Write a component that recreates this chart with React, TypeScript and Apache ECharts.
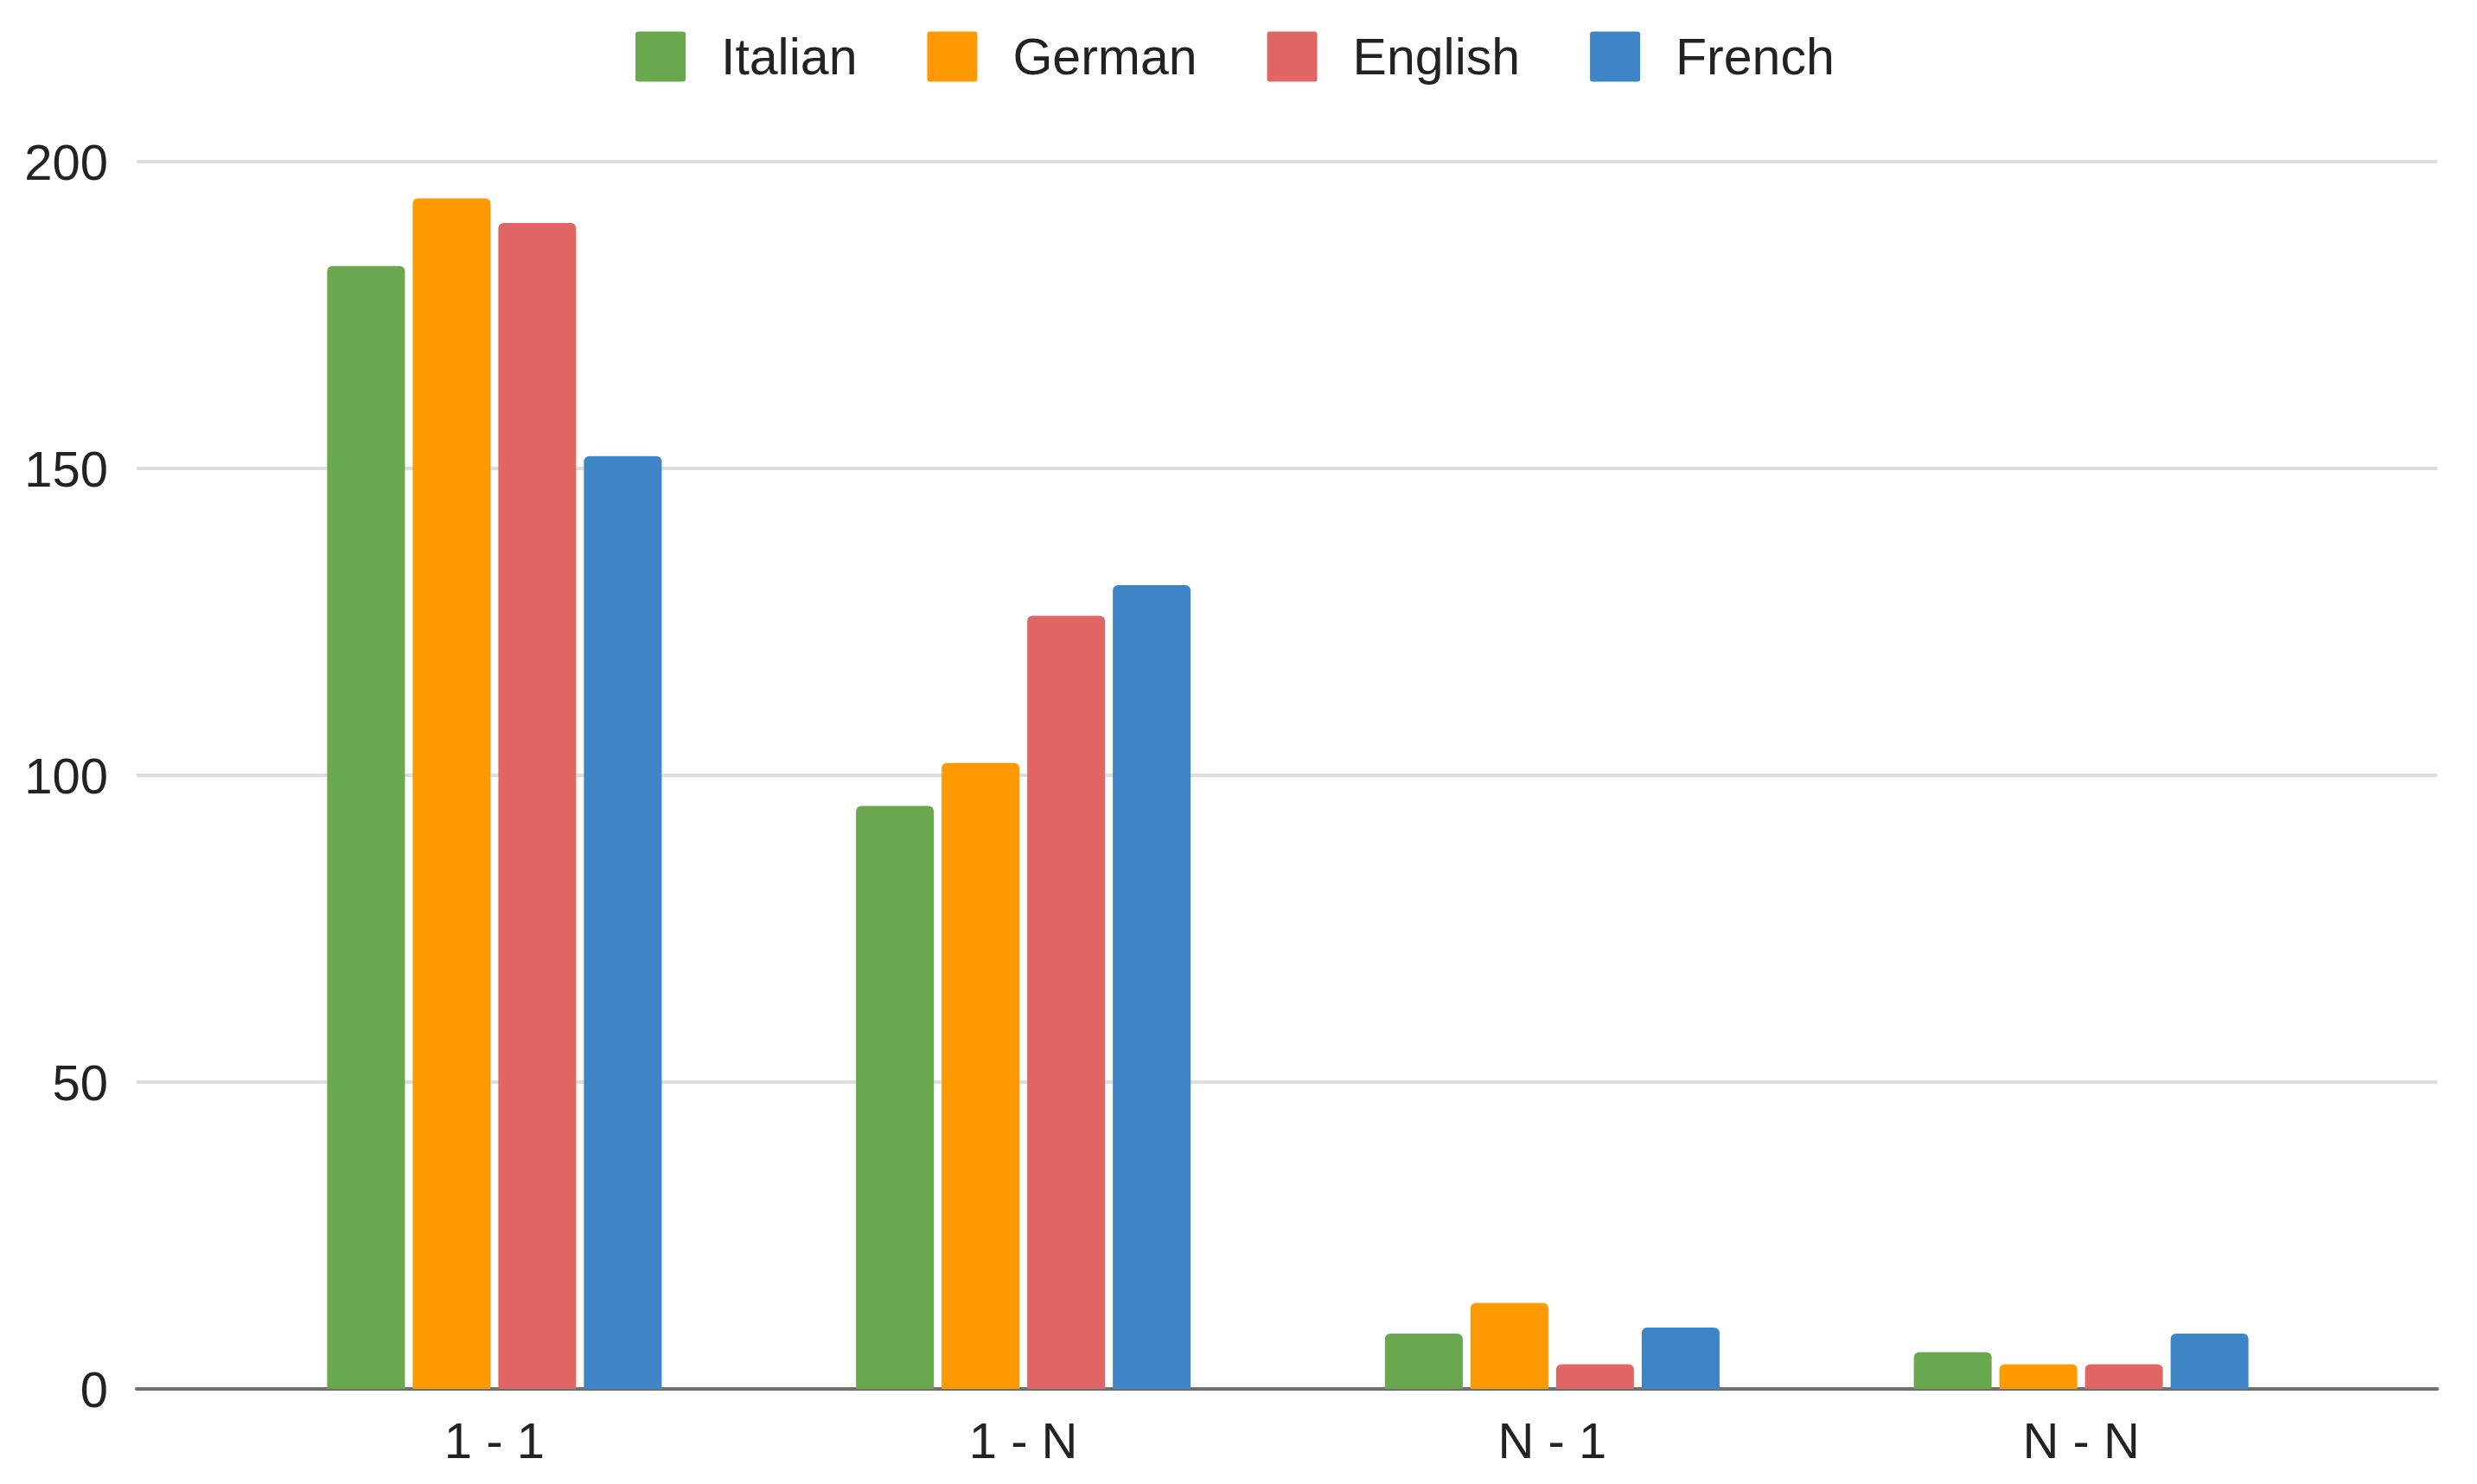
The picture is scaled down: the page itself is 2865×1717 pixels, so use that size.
import React, { useEffect, useRef } from "react";
import * as echarts from "echarts";

const categories = ["1 - 1", "1 - N", "N - 1", "N - N"];
const seriesNames = ["Italian", "German", "English", "French"];
const italian = [183, 95, 9, 6];
const german = [194, 102, 14, 4];
const english = [190, 126, 4, 4];
const french = [152, 131, 10, 9];
const yTicks = { min: 0, max: 200, interval: 50 };

const colors = ["#6aa84f", "#ff9900", "#e06666", "#3d85c6"];
const FONT = "'Liberation Sans', Arial, sans-serif";
const LEGEND_ICON =
  "path://M3,0 H55 Q58,0 58,3 V55 Q58,58 55,58 H3 Q0,58 0,55 V3 Q0,0 3,0 Z";

export default function App() {
  const ref = useRef<HTMLDivElement>(null);
  useEffect(() => {
    if (!ref.current) return;
    const chart = echarts.init(ref.current, null, { renderer: "svg" });
    const values = [italian, german, english, french];
    chart.setOption({
      animation: false,
      backgroundColor: "#ffffff",
      color: colors,
      legend: {
        top: 31,
        left: 730,
        itemWidth: 58,
        itemHeight: 58,
        itemGap: 81,
        icon: LEGEND_ICON,
        textStyle: {
          fontFamily: FONT,
          fontSize: 59,
          color: "#222222",
          padding: [0, 0, 0, 36],
        },
        data: seriesNames,
      },
      grid: [
        { left: 158, right: 46, top: 187, bottom: 110, containLabel: false },
        { left: 266, right: 152, top: 187, bottom: 110, containLabel: false },
      ],
      xAxis: [
        {
          type: "value",
          gridIndex: 0,
          min: 0,
          max: 1,
          axisLine: { show: true, lineStyle: { color: "#6f6f6f", width: 4 } },
          axisTick: { show: false },
          axisLabel: { show: false },
          splitLine: { show: false },
        },
        {
          type: "category",
          gridIndex: 1,
          data: categories,
          axisLine: { show: false },
          axisTick: { show: false },
          axisLabel: {
            fontFamily: FONT,
            fontSize: 58,
            color: "#222222",
            margin: 30,
          },
        },
      ],
      yAxis: [
        {
          type: "value",
          gridIndex: 0,
          min: yTicks.min,
          max: yTicks.max,
          interval: yTicks.interval,
          axisLine: { show: false },
          axisTick: { show: false },
          axisLabel: {
            fontFamily: FONT,
            fontSize: 58,
            color: "#222222",
            margin: 33,
          },
          splitLine: { lineStyle: { color: "#dddddd", width: 4 } },
        },
        {
          type: "value",
          gridIndex: 1,
          min: yTicks.min,
          max: yTicks.max,
          interval: yTicks.interval,
          show: false,
          splitLine: { show: false },
        },
      ],
      series: seriesNames.map((name, i) => ({
        name,
        type: "bar",
        xAxisIndex: 1,
        yAxisIndex: 1,
        data: values[i],
        barWidth: 90,
        barGap: "10%",
        itemStyle: { color: colors[i], borderRadius: [6, 6, 0, 0] },
      })),
    });
    return () => chart.dispose();
  }, []);
  return (
    <div
      ref={ref}
      style={{ position: "absolute", left: 0, top: 0, width: 2865, height: 1717, background: "#fff" }}
    />
  );
}
